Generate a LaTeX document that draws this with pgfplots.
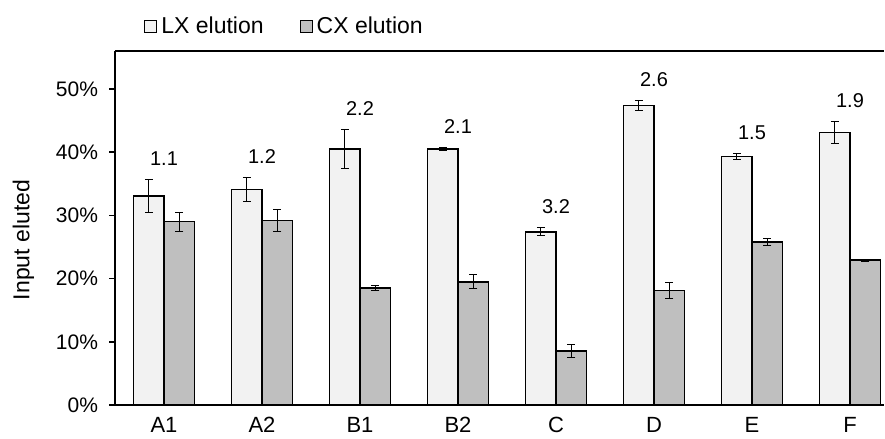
\documentclass[border=0pt]{standalone}
\usepackage{pgfplots}
\usepackage{pgfplotstable}
\pgfplotsset{compat=1.18}
\usepackage{fontspec}
\setmainfont{Liberation Sans}

\definecolor{lxfill}{HTML}{F2F2F2}
\definecolor{cxfill}{HTML}{BFBFBF}

% fraction of input eluted (mean and error) and the LX/CX ratio
\pgfplotstableread{
x lx    lxe   cx     cxe    ratio
0 0.331 0.026 0.290  0.015  1.1
1 0.341 0.019 0.292  0.018  1.2
2 0.405 0.031 0.185  0.004  2.2
3 0.405 0.002 0.195  0.011  2.1
4 0.274 0.006 0.0855 0.011  3.2
5 0.474 0.008 0.181  0.012  2.6
6 0.393 0.005 0.258  0.006  1.5
7 0.431 0.017 0.229  0.0015 1.9
}\elution

\begin{document}
\begin{tikzpicture}
\begin{axis}[
  scale only axis,
  width=384.5pt, height=177pt,
  xmin=-0.5, xmax=7.347,
  ymin=0, ymax=0.56,
  axis x line*=box, axis y line*=left,
  axis line style={line width=0.75pt, black, -},
  ybar, bar width=15.25pt,
  xtick={0,1,2,3,4,5,6,7},
  xticklabels={A1,A2,B1,B2,C,D,E,F},
  x tick style={draw=none},
  xticklabel style={font=\fontsize{11}{13}\selectfont, yshift=0.5pt},
  ytick={0,0.1,0.2,0.3,0.4,0.5},
  yticklabels={0\%,10\%,20\%,30\%,40\%,50\%},
  yticklabel style={font=\fontsize{10.5}{12}\selectfont, xshift=-2pt},
  y tick style={line width=0.75pt, black},
  tick align=outside, major tick length=3pt,
  ylabel={Input eluted},
  ylabel style={at={(axis description cs:-0.119,0.466)}, anchor=center,
                font=\fontsize{11.5}{13}\selectfont},
  legend columns=2,
  legend style={at={(axis description cs:0,1)}, anchor=west,
                xshift=14.5pt, yshift=12pt, draw=none, fill=none,
                inner sep=0pt, font=\fontsize{11.5}{13}\selectfont,
                /tikz/every even column/.append style={column sep=16pt}},
  legend image code/.code={%
    \draw[#1, line width=0.5pt] (0pt,-3pt) rectangle (6pt,3pt);},
  error bars/y dir=both, error bars/y explicit,
  error bars/error bar style={line width=0.5pt, black},
  error bars/error mark options={rotate=90, mark size=2pt, line width=0.5pt, black},
]
\addplot[draw=black, fill=lxfill, line width=0.8pt, bar shift=-7.625pt]
  table[x=x, y=lx, y error=lxe] {\elution};
\addlegendentry{LX elution}
\addplot[draw=black, fill=cxfill, line width=0.8pt, bar shift=7.625pt]
  table[x=x, y=cx, y error=cxe] {\elution};
\addlegendentry{CX elution}
% ratio labels above each group
\addplot[draw=none, fill=none, bar shift=0pt, forget plot,
         error bars/y dir=none,
         nodes near coords, point meta=explicit symbolic,
         every node near coord/.append style={anchor=center, yshift=10.5pt,
           font=\fontsize{10}{12}\selectfont, text=black}]
  table[x=x, y expr=\thisrow{lx}+\thisrow{lxe}, meta=ratio] {\elution};
\end{axis}
\pgfresetboundingbox
\path ([shift={(-57.5pt,-16.5pt)}]current axis.south west)
  rectangle ([shift={(0.5pt,25.5pt)}]current axis.north east);
\end{tikzpicture}
\end{document}
